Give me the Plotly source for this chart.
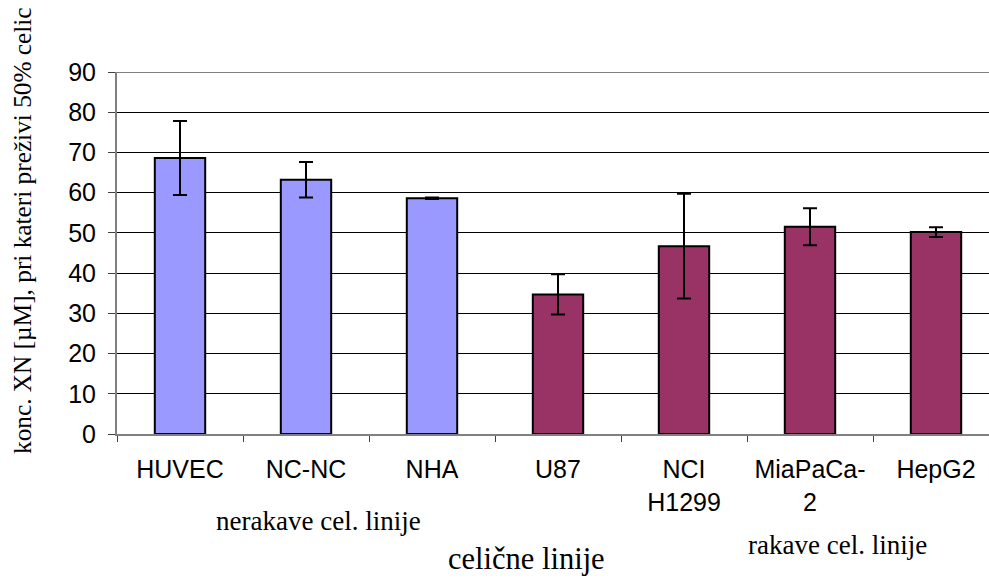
import plotly.graph_objects as go

# Cell lines and measured concentrations (mean ± error)
cell_lines = ["HUVEC", "NC-NC", "NHA", "U87", "NCI<br>H1299", "MiaPaCa-<br>2", "HepG2"]
conc_mean = [68.6, 63.2, 58.6, 34.7, 46.7, 51.5, 50.2]
conc_err = [9.2, 4.4, 0.2, 5.0, 13.0, 4.6, 1.2]
group_is_cancer = [False, False, False, True, True, True, True]

y_ticks = [0, 10, 20, 30, 40, 50, 60, 70, 80, 90]

COL_NORMAL = "#9999FF"
COL_CANCER = "#993366"

bar_colors = [COL_CANCER if c else COL_NORMAL for c in group_is_cancer]

fig = go.Figure()
fig.add_trace(go.Bar(
    x=cell_lines,
    y=conc_mean,
    width=0.4,
    marker=dict(color=bar_colors, line=dict(color="black", width=2)),
    error_y=dict(type="data", array=conc_err, visible=True,
                 color="black", thickness=2, width=7),
    showlegend=False,
))

plot_w = 989 - 117
plot_h = 434 - 72
cat_px = 126


def px_x(px):
    return (px - 117) / plot_w


def px_y(py):
    return (434 - py) / plot_h


SERIF = "Liberation Serif, Times New Roman"

fig.update_layout(
    width=989, height=579,
    margin=dict(l=117, r=0, t=72, b=145),
    paper_bgcolor="white", plot_bgcolor="white",
    font=dict(family="Liberation Sans, Arial", color="black"),
    xaxis=dict(
        type="category",
        range=[-0.5, -0.5 + plot_w / cat_px],
        tickson="boundaries",
        ticks="outside", ticklen=6, tickcolor="#404040",
        showline=True, linecolor="#808080", linewidth=2,
        showgrid=False,
        tickfont=dict(size=25, family="Liberation Sans, Arial"),
        ticklabelstandoff=12,
    ),
    yaxis=dict(
        range=[0, 90],
        tickvals=y_ticks,
        ticks="outside", ticklen=7, tickcolor="#404040",
        showline=True, linecolor="#808080", linewidth=2,
        showgrid=True, gridcolor="black", gridwidth=1,
        zeroline=False,
        tickfont=dict(size=25, family="Liberation Sans, Arial"),
        ticklabelstandoff=7,
    ),
    shapes=[dict(type="line", xref="paper", yref="y", x0=0, x1=1, y0=90, y1=90,
                 line=dict(color="#808080", width=2))],
    annotations=[
        dict(text="konc. XN [µM], pri kateri preživi 50% celic",
             xref="paper", yref="paper", x=px_x(22), y=px_y(231),
             xanchor="center", yanchor="middle",
             textangle=-90, showarrow=False,
             font=dict(family=SERIF, size=25.3)),
        dict(text="nerakave cel. linije", xref="paper", yref="paper",
             x=px_x(318), y=px_y(521), xanchor="center", yanchor="middle",
             showarrow=False, font=dict(family=SERIF, size=27)),
        dict(text="rakave cel. linije", xref="paper", yref="paper",
             x=px_x(837), y=px_y(545), xanchor="center", yanchor="middle",
             showarrow=False, font=dict(family=SERIF, size=27)),
        dict(text="celične linije", xref="paper", yref="paper",
             x=px_x(526), y=px_y(559), xanchor="center", yanchor="middle",
             showarrow=False, font=dict(family=SERIF, size=30.5)),
    ],
)

fig.write_html("out.html")
